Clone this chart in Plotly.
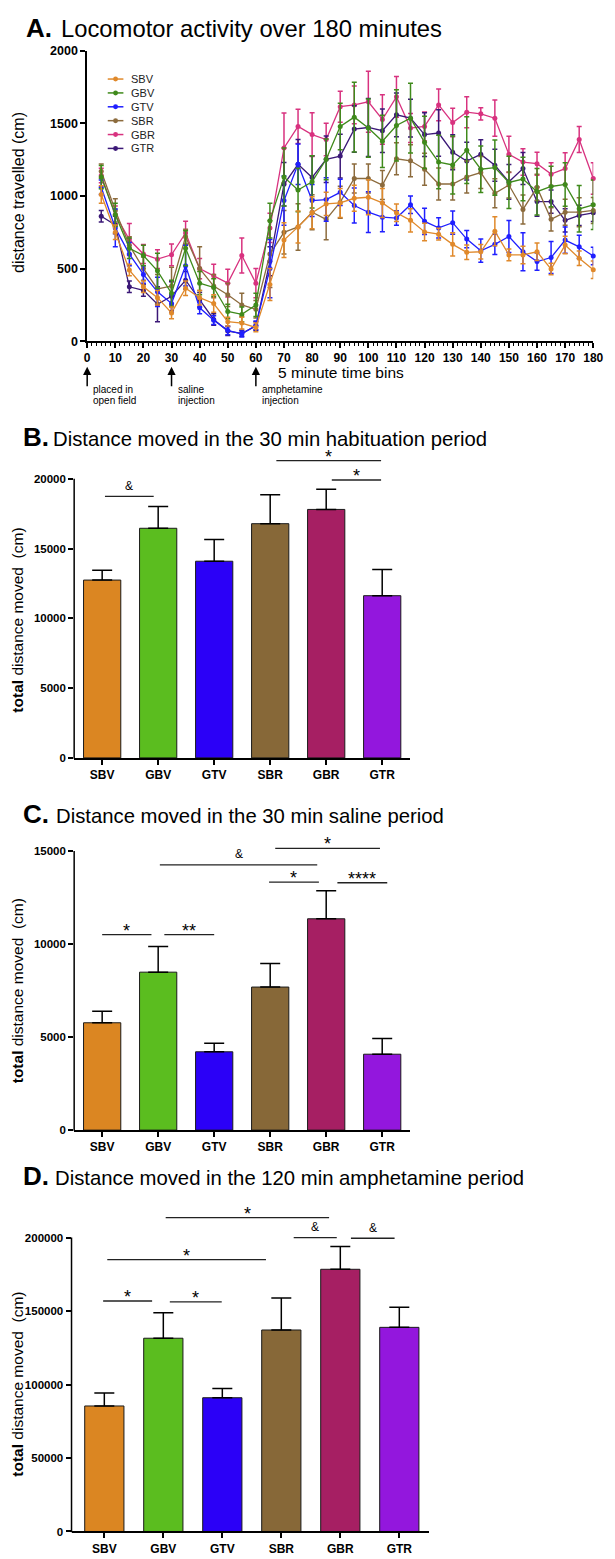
import plotly.graph_objects as go

W, H = 615, 1559
FONT = "Liberation Sans, Arial, Helvetica, sans-serif"

# ---------------- data ----------------
groups = ["SBV", "GBV", "GTV", "SBR", "GBR", "GTR"]
time_bins = [5, 10, 15, 20, 25, 30, 35, 40, 45, 50, 55, 60, 65, 70, 75, 80, 85, 90,
             95, 100, 105, 110, 115, 120, 125, 130, 135, 140, 145, 150, 155, 160, 165, 170, 175, 180]
x_ticks = [0, 10, 20, 30, 40, 50, 60, 70, 80, 90, 100, 110, 120, 130, 140, 150, 160, 170, 180]

SBV = [1010, 750, 490, 375, 300, 195, 365, 300, 260, 135, 125, 95, 390, 696, 787, 884, 945, 952,
       984, 991, 952, 884, 832, 752, 737, 667, 612, 616, 757, 594, 594, 616, 497, 662, 571, 492]
SBV_err = [60, 50, 40, 40, 50, 40, 50, 50, 60, 30, 40, 30, 110, 120, 110, 110, 80, 100,
           90, 120, 100, 60, 80, 60, 40, 80, 50, 50, 100, 40, 60, 60, 40, 60, 50, 60]
GBV = [1130, 870, 640, 590, 485, 330, 640, 400, 370, 205, 185, 250, 830, 1130, 1041, 1097, 1252, 1478,
       1542, 1467, 1376, 1485, 1535, 1369, 1233, 1213, 1315, 1184, 1195, 1093, 1116, 1029, 1065, 1079, 911, 939]
GBV_err = [80, 80, 70, 70, 120, 90, 120, 80, 60, 50, 50, 80, 120, 200, 150, 180, 140, 160,
           240, 200, 180, 245, 240, 180, 184, 200, 230, 160, 190, 180, 150, 160, 140, 150, 160, 170]
GTV = [1060, 780, 600, 460, 340, 260, 520, 230, 145, 75, 50, 110, 500, 968, 1218, 968, 975, 1025,
       934, 888, 854, 848, 939, 825, 780, 816, 703, 623, 667, 721, 616, 548, 576, 696, 650, 587]
GTV_err = [50, 130, 80, 60, 100, 60, 140, 40, 30, 30, 20, 30, 200, 170, 140, 110, 150, 90,
           120, 140, 100, 50, 60, 90, 70, 80, 60, 80, 70, 110, 130, 60, 110, 90, 80, 60]
SBR = [1170, 900, 660, 500, 360, 380, 720, 500, 380, 320, 250, 220, 600, 750, 787, 888, 839, 957,
       1120, 1120, 1075, 1256, 1242, 1184, 1082, 1082, 1131, 1161, 1018, 1075, 907, 1059, 839, 888, 888, 900]
SBR_err = [50, 80, 60, 80, 100, 130, 50, 150, 80, 80, 80, 60, 230, 150, 160, 120, 140, 110,
           100, 100, 100, 110, 110, 110, 110, 110, 110, 110, 100, 90, 100, 90, 80, 90, 100, 90]
GBR = [1140, 870, 700, 600, 565, 595, 745, 500, 450, 400, 590, 400, 780, 1330, 1478, 1422, 1388, 1614,
       1626, 1648, 1526, 1682, 1467, 1478, 1626, 1505, 1576, 1565, 1535, 1286, 1233, 1222, 1150, 1188, 1388, 1120]
GBR_err = [50, 60, 110, 65, 65, 75, 80, 70, 80, 95, 120, 100, 100, 240, 118, 150, 112, 107,
           130, 210, 170, 140, 100, 100, 109, 98, 106, 42, 125, 124, 91, 79, 79, 109, 90, 109]
GTR = [860, 800, 375, 350, 255, 310, 420, 285, 150, 70, 55, 105, 550, 1080, 1218, 1127, 1252, 1274,
       1460, 1471, 1449, 1558, 1535, 1422, 1433, 1301, 1240, 1286, 1211, 1097, 1188, 961, 961, 832, 866, 884]
GTR_err = [40, 60, 40, 40, 120, 100, 60, 50, 40, 30, 20, 30, 100, 150, 170, 150, 160, 150,
           160, 200, 150, 150, 130, 150, 160, 120, 130, 100, 110, 120, 110, 100, 80, 80, 70, 60]

hab_mean = [12740, 16450, 14090, 16780, 17800, 11620]
hab_sem = [700, 1560, 1560, 2080, 1440, 1870]
sal_mean = [5770, 8490, 4210, 7690, 11360, 4080]
sal_sem = [620, 1385, 460, 1260, 1510, 850]
amph_mean = [85400, 131500, 91000, 137100, 178400, 138900]
amph_sem = [8800, 17300, 6300, 21800, 15500, 13700]

# significance brackets: (from, to, level, label) in category / value units
sig_B = [(0.05, 0.92, 18740, "&"), (3.11, 4.98, 21300, "*"), (4.10, 4.98, 19910, "*")]
sig_C = [(0.0, 0.88, 10510, "*"), (1.11, 2.0, 10510, "**"), (1.03, 3.84, 14255, "&"),
         (3.09, 4.96, 15144, "*"), (2.98, 3.87, 13334, "*"), (4.20, 5.09, 13297, "****")]
sig_D = [(1.04, 3.81, 213490, "*"), (3.21, 3.94, 200000, "&"), (4.18, 4.92, 199530, "&"),
         (0.05, 2.74, 184960, "*"), (-0.02, 0.81, 156840, "*"), (1.11, 1.99, 156170, "*")]

series = {"SBV": (SBV, SBV_err), "GBV": (GBV, GBV_err), "GTV": (GTV, GTV_err),
          "SBR": (SBR, SBR_err), "GBR": (GBR, GBR_err), "GTR": (GTR, GTR_err)}
line_colors = {"SBV": "#e0892b", "GBV": "#3f8a1b", "GTV": "#1f1fff",
               "SBR": "#8c6b3d", "GBR": "#d8327f", "GTR": "#3b1877"}
bar_colors = ["#db8622", "#5bbd1f", "#2b00f7", "#876838", "#a61f63", "#9317dd"]


def pxx(x):
    return x / W


def pyy(y):
    return 1 - y / H


fig = go.Figure()

# ---------------- panel A ----------------
for name in ["GBR", "GTR", "SBR", "GTV", "GBV", "SBV"]:
    vals, errs = series[name]
    c = line_colors[name]
    fig.add_trace(go.Scatter(
        x=time_bins, y=vals, mode="lines+markers", name=name,
        line=dict(color=c, width=1.3), marker=dict(size=5, color=c),
        error_y=dict(type="data", array=errs, color=c, thickness=1.5, width=2.5),
        cliponaxis=False, showlegend=False, xaxis="x", yaxis="y"))

# ---------------- bar panels ----------------
bar_sets = [(hab_mean, hab_sem, "x2", "y2"), (sal_mean, sal_sem, "x3", "y3"),
            (amph_mean, amph_sem, "x4", "y4")]
for mean, sem, xa, ya in bar_sets:
    fig.add_trace(go.Bar(
        x=groups, y=mean, width=0.665,
        marker=dict(color=bar_colors, line=dict(color="#1a1a1a", width=1)),
        error_y=dict(type="data", array=sem, arrayminus=[0] * len(sem), symmetric=False,
                     color="black", thickness=1.5, width=10),
        showlegend=False, xaxis=xa, yaxis=ya))

tickfont = dict(family=FONT, size=12, color="black", weight="bold")
ytickfont = dict(family=FONT, size=11.5, color="black", weight="bold")

layout = dict(
    width=W, height=H, margin=dict(l=0, r=0, t=0, b=0),
    paper_bgcolor="white", plot_bgcolor="white",
    font=dict(family=FONT, color="black"),
    bargap=0.3,
    xaxis=dict(domain=[pxx(86), pxx(603)], range=[0, 180], anchor="y",
               tickmode="array", tickvals=x_ticks, ticks="outside", ticklen=5, tickwidth=1.5,
               tickcolor="black", showline=True, linewidth=1.5, linecolor="black",
               showgrid=False, zeroline=False, tickfont=dict(family=FONT, size=12, color="black", weight="bold"),
               minor=dict(dtick=10 / 6, tick0=0, ticks="outside", ticklen=3, tickwidth=1, tickcolor="black")),
    yaxis=dict(domain=[pyy(337.3), pyy(44)], range=[0, 2000], anchor="x",
               tickmode="array", tickvals=[0, 500, 1000, 1500, 2000], ticks="outside", ticklen=5,
               tickwidth=1.5, tickcolor="black", showline=True, linewidth=1.5, linecolor="black",
               showgrid=False, zeroline=False, tickformat="d",
               tickfont=dict(family=FONT, size=12.5, color="black", weight="bold")),
)

# bar panel geometry: (x-axis, y-axis, left px, right px, zero px, top tick px, top tick value,
#                      domain top px, x range, tick values)
bar_geo = [
    ("xaxis2", "yaxis2", 72.7, 416, 757.7, 476, 20000, 445, [-0.5, 5.5], [0, 5000, 10000, 15000, 20000]),
    ("xaxis3", "yaxis3", 72.7, 416, 1133.3, 851.7, 15000, 838, [-0.5, 5.5], [0, 5000, 10000, 15000]),
    ("xaxis4", "yaxis4", 70, 435, 1538.3, 1241.7, 200000, 1210, [-0.556, 5.5], [0, 50000, 100000, 150000, 200000]),
]
shapes = []
for xa, ya, lpx, rpx, zpx, tpx, tval, dtop, xr, tv in bar_geo:
    rmax = tval * (zpx - dtop) / (zpx - tpx)
    xs = xa.replace("axis", "")
    ys = ya.replace("axis", "")
    layout[xa] = dict(domain=[pxx(lpx), pxx(rpx)], range=xr, anchor=ys, type="category",
                      ticks="outside", ticklen=5, tickwidth=1.5, tickcolor="black",
                      showline=True, linewidth=1.5, linecolor="black", showgrid=False,
                      zeroline=False, tickfont=tickfont)
    layout[ya] = dict(domain=[pyy(zpx), pyy(dtop)], range=[0, rmax], anchor=xs,
                      tickmode="array", tickvals=tv, ticktext=[str(v) for v in tv],
                      ticks="outside", ticklen=5, tickwidth=1.5,
                      tickcolor="black", showline=False, showgrid=False, zeroline=False,
                      tickfont=ytickfont)
    # y axis line only up to top tick
    shapes.append(dict(type="line", xref="paper", yref="paper", x0=pxx(lpx), x1=pxx(lpx),
                       y0=pyy(zpx + 0.75), y1=pyy(tpx), line=dict(color="black", width=1.5)))

annotations = []
for sig, xa, ya in [(sig_B, "x2", "y2"), (sig_C, "x3", "y3"), (sig_D, "x4", "y4")]:
    for x0, x1, lvl, lab in sig:
        shapes.append(dict(type="line", xref=xa, yref=ya, x0=x0, x1=x1, y0=lvl, y1=lvl,
                           line=dict(color="#222222", width=1.3)))
        amp = lab == "&"
        annotations.append(dict(xref=xa, yref=ya, x=(x0 + x1) / 2, y=lvl, text=lab,
                                showarrow=False, xanchor="center", yanchor="middle",
                                yshift=10.5 if amp else 4.0,
                                font=dict(family=FONT, size=12 if amp else 18, color="black")))

# titles
titles = [("A.", "Locomotor activity over 180 minutes", 21, 58, 30, 23.8),
          ("B.", "Distance moved in the 30 min habituation period", 18.5, 50, 442.7, 20.3),
          ("C.", "Distance moved in the 30 min saline period", 18.5, 53, 823.3, 20.3),
          ("D.", "Distance moved in the 120 min amphetamine period", 18.5, 52, 1188.3, 20.3)]
for letter, text, lx, tx, base, fs in titles:
    annotations.append(dict(xref="paper", yref="paper", x=pxx(lx), y=pyy(base - 0.35 * 26),
                            text="<b>" + letter + "</b>", showarrow=False, xanchor="left",
                            yanchor="middle", font=dict(family=FONT, size=26, color="black")))
    annotations.append(dict(xref="paper", yref="paper", x=pxx(tx - 1), y=pyy(base - 0.35 * fs),
                            text=text, showarrow=False, xanchor="left", yanchor="middle",
                            font=dict(family=FONT, size=fs, color="black")))

# axis titles
annotations.append(dict(xref="paper", yref="paper", x=pxx(16), y=pyy(187), text="distance travelled (cm)",
                        textangle=-90, showarrow=False, xanchor="center", yanchor="middle",
                        font=dict(family=FONT, size=16, color="black")))
for cy in [619, 993, 1390]:
    annotations.append(dict(xref="paper", yref="paper", x=pxx(14.5), y=pyy(cy),
                            text="<b>total</b> distance moved  (cm)",
                            textangle=-90, showarrow=False, xanchor="center", yanchor="middle",
                            font=dict(family=FONT, size=15.5, color="black")))
annotations.append(dict(xref="paper", yref="paper", x=pxx(345), y=pyy(369), text="5 minute time bins",
                        showarrow=False, xanchor="center", yanchor="middle",
                        font=dict(family=FONT, size=15.5, color="black")))

# event arrows under panel A
events = [(0, ["placed in", "open field"]), (30, ["saline", "injection"]), (60, ["amphetamine", "injection"])]
for ex, lines in events:
    annotations.append(dict(xref="x", yref="paper", x=ex, y=pyy(363), ax=0, ay=21, text="",
                            showarrow=True, arrowhead=2, arrowsize=1.1, arrowwidth=1.5,
                            arrowcolor="black"))
    for i, ln in enumerate(lines):
        annotations.append(dict(xref="x", yref="paper", x=ex, xshift=4, y=pyy(386 + 11 * i), text=ln,
                                showarrow=False, xanchor="left", yanchor="middle",
                                font=dict(family=FONT, size=10, color="black")))

# manual legend for panel A
for i, name in enumerate(groups):
    cy = 72.7 + 14 * i
    c = line_colors[name]
    shapes.append(dict(type="line", xref="paper", yref="paper", x0=pxx(107), x1=pxx(123),
                       y0=pyy(cy), y1=pyy(cy), line=dict(color=c, width=1.5)))
    shapes.append(dict(type="circle", xref="paper", yref="paper", x0=pxx(112.5), x1=pxx(117.5),
                       y0=pyy(cy + 2.5), y1=pyy(cy - 2.5), fillcolor=c, line=dict(color=c, width=0)))
    annotations.append(dict(xref="paper", yref="paper", x=pxx(129), y=pyy(cy), text=name,
                            showarrow=False, xanchor="left", yanchor="middle",
                            font=dict(family=FONT, size=11, color="#222222")))

layout["shapes"] = shapes
layout["annotations"] = annotations
fig.update_layout(**layout)

fig.write_html("out.html")
